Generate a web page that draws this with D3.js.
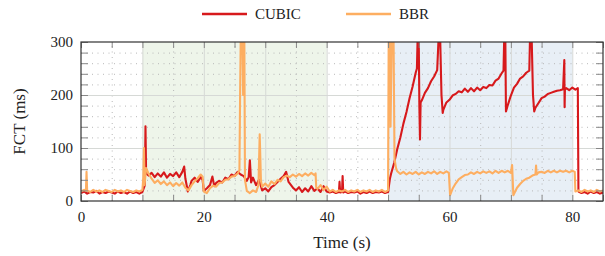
<!DOCTYPE html>
<html>
<head>
<meta charset="utf-8">
<script src="https://cdn.jsdelivr.net/npm/d3@7"></script>
<style>
  body { margin: 0; background: #fff; }
  text { font-family: "Liberation Serif", "DejaVu Serif", serif; fill: #222; }
</style>
</head>
<body>
<svg id="chart" width="605" height="256"></svg>
<script>
// series names + colours for the legend
const seriesNames = ["CUBIC", "BBR"];
const seriesColors = ["#d7191c", "#fdae61"];

// shaded phases (seconds)
const phases = [[10, 40], [50, 80]];
const phaseColors = ["#eef5ea", "#e8eff6"];

const xLabelTicks = [0, 20, 40, 60, 80];
const yLabelTicks = [0, 100, 200, 300];

// [time (s), FCT (ms)]
const cubic = [
  [0,15],[0.5,18],[1,14],[1.5,17],[2,16],[2.5,19],[3,14],[3.5,17],[4,15],[4.5,18],[5,16],[5.5,14],[6,18],[6.5,15],[7,17],[7.5,14],[8,18],[8.5,15],[9,17],[9.5,14],[10,17],
  [10.4,30],[10.5,141],[10.6,52],
  [11,48],[11.5,53],[12,45],[12.5,52],[13,46],[13.5,54],[14,44],[14.5,51],[15,47],[15.5,54],[16,45],[16.5,55],[16.8,65],[17,42],[17.4,18],[17.8,30],[18,38],[18.5,44],[19,36],[19.5,45],[19.8,40],
  [20,19],[20.5,24],[21,30],[21.4,46],[21.7,28],[22,34],[22.5,38],[23,35],[23.5,44],[24,41],[24.5,50],[25,47],[25.5,55],[26,50],[26.5,47],[27,38],[27.3,45],[27.5,77],[27.7,35],[28,44],[28.5,30],[29,40],[29.5,20],
  [30,24],[30.5,18],[31,26],[31.5,30],[32,36],[32.5,42],[33,47],[33.4,55],[33.8,36],[34.2,30],[34.6,24],[35,20],[35.5,26],[36,17],[36.5,24],[37,18],[37.5,28],[38,19],[38.5,24],[39,17],[39.5,28],[40,18],
  [40.5,16],[41,18],[41.5,15],[42,17],[42.1,36],[42.2,16],[42.5,17],[42.6,47],[42.7,16],[43,18],[43.5,15],[44,17],[44.5,16],[45,18],[45.5,14],[46,17],[46.5,15],[47,18],[47.5,15],[48,17],[48.5,16],[49,18],[49.5,15],[50,17],
  [50.3,42],[50.5,52],[51,72],[51.5,98],[52,120],[52.5,146],[53,168],[53.5,194],[54,216],[54.5,242],[54.7,250],[54.8,300],[55,300],[55.1,178],[55.2,116],[55.3,186],[55.5,190],[56,204],[56.5,213],[57,226],[57.5,235],[58,247],
  [58.2,300],[58.5,300],[58.7,200],[58.9,166],[59,172],[59.5,186],[60,191],[60.5,199],[61,202],[61.5,207],[62,205],[62.5,212],[63,206],[63.5,213],[64,207],[64.5,214],[65,209],[65.5,215],[66,213],[66.5,219],[67,218],[67.5,227],[68,231],[68.5,241],[68.8,246],
  [68.9,300],[69.1,300],[69.2,169],[69.5,181],[70,199],[70.5,214],[71,221],[71.5,231],[72,235],[72.5,242],[73,246],[73.1,300],[73.4,300],[73.6,200],[73.8,169],
  [74,176],[74.5,185],[75,194],[75.5,197],[76,202],[76.5,204],[77,206],[77.5,208],[78,209],[78.5,211],[78.7,266],[78.75,177],[78.8,210],[79,213],[79.5,209],[80,214],[80.5,210],[80.9,213],
  [81,18],[81.5,15],[82,17],[82.5,14],[83,18],[83.5,15],[84,17],[84.5,14],[85,16]
];

const bbr = [
  [0,18],[0.5,21],[0.8,19],[0.9,55],[1,20],[1.5,17],[2,21],[2.5,18],[3,20],[3.5,17],[4,21],[4.5,19],[5,17],[5.5,21],[6,18],[6.5,20],[7,17],[7.5,21],[8,19],[8.5,17],[9,20],[9.5,18],[10,21],
  [10.15,45],[10.25,100],[10.35,30],[10.6,62],[11,52],[11.5,42],[12,34],[12.5,39],[13,32],[13.5,37],[14,30],[14.5,35],[15,28],[15.5,34],[16,29],[16.5,35],[17,25],[17.5,20],[18,30],[18.5,37],[19,43],[19.5,50],[19.8,46],
  [20,18],[20.5,15],[21,24],[21.5,29],[22,27],[22.5,34],[23,35],[23.5,40],[24,41],[24.5,46],[25,47],[25.5,52],[25.8,58],[25.9,190],[26,300],[26.3,300],[26.4,200],[26.5,300],[26.6,300],[26.7,40],
  [27,19],[27.5,15],[28,20],[28.5,17],[28.9,30],[29.1,126],[29.3,38],[29.5,27],[30,33],[30.5,27],[31,37],[31.5,32],[32,40],[32.5,37],[33,45],[33.5,48],[34,45],[34.5,50],[35,46],[35.5,51],[36,47],[36.5,52],[37,48],[37.5,53],[38,49],[38.2,52],[38.3,26],[38.5,23],[39,30],[39.5,21],[40,27],
  [40.5,18],[41,21],[41.5,17],[42,20],[42.5,18],[43,21],[43.5,17],[44,20],[44.5,18],[45,21],[45.5,17],[46,20],[46.5,18],[47,21],[47.5,17],[48,20],[48.5,18],[49,21],[49.5,17],[50,20],
  [50.1,300],[50.3,300],[50.4,140],[50.6,300],[50.9,300],[51.05,80],[51.3,62],[51.5,56],[52,51],[52.5,55],[53,50],[53.5,54],[54,51],[54.5,55],[55,50],[55.5,54],[56,51],[56.5,55],[57,52],[57.5,56],[58,51],[58.5,55],[59,52],[59.5,56],[59.9,53],
  [60.1,11],[60.5,23],[61,33],[61.5,41],[62,45],[62.5,49],[63,50],[63.5,54],[64,51],[64.5,55],[65,52],[65.5,56],[66,53],[66.5,56],[67,52],[67.5,57],[68,53],[68.5,57],[69,54],[69.5,57],[70,53],[70.2,68],
  [70.4,11],[71,25],[71.5,32],[72,38],[72.5,42],[73,44],[73.5,48],[74,50],[74.1,67],[74.2,50],[74.5,54],[75,55],[75.5,53],[76,57],[76.5,54],[77,57],[77.5,54],[78,57],[78.5,55],[79,57],[79.5,54],[80,57],[80.4,55],
  [80.5,18],[81,20],[81.5,17],[82,21],[82.5,18],[83,20],[83.5,17],[84,21],[84.5,18],[85,20]
];

const margin = { top: 42, right: 2, bottom: 55, left: 81 },
  width = 605 - margin.left - margin.right,
  height = 256 - margin.top - margin.bottom;

const svg = d3.select("#chart")
  .append("g")
  .attr("transform", `translate(${margin.left},${margin.top})`);

const x = d3.scaleLinear().domain([0, 85]).range([0, width]);
const y = d3.scaleLinear().domain([0, 300]).range([height, 0]);

// phase shading
svg.selectAll("rect.phase")
  .data(phases)
  .join("rect")
  .attr("class", "phase")
  .attr("x", d => x(d[0]))
  .attr("width", d => x(d[1]) - x(d[0]))
  .attr("y", 0)
  .attr("height", height)
  .attr("fill", (d, i) => phaseColors[i]);

// grid: dotted minor, solid major
const xMinor = d3.range(5, 85, 10);
const xMajor = d3.range(10, 85, 10);
const yMinor = d3.range(20, 300, 20).filter(v => v % 100 !== 0);
const yMajor = [100, 200];

function grid(g) {
  g.select(".domain").remove();
  g.selectAll("text").remove();
}
svg.append("g")
  .attr("transform", `translate(0,${height})`)
  .call(d3.axisBottom(x).tickValues(xMinor).tickSize(-height).tickFormat(""))
  .call(grid)
  .selectAll("line").attr("stroke", "#b8b8b8").attr("stroke-dasharray", "1,4.5");
svg.append("g")
  .call(d3.axisLeft(y).tickValues(yMinor).tickSize(-width).tickFormat(""))
  .call(grid)
  .selectAll("line").attr("stroke", "#b8b8b8").attr("stroke-dasharray", "1,4.5");
svg.append("g")
  .attr("transform", `translate(0,${height})`)
  .call(d3.axisBottom(x).tickValues(xMajor).tickSize(-height).tickFormat(""))
  .call(grid)
  .selectAll("line").attr("stroke", "#d6d9d6");
svg.append("g")
  .call(d3.axisLeft(y).tickValues(yMajor).tickSize(-width).tickFormat(""))
  .call(grid)
  .selectAll("line").attr("stroke", "#d6d9d6");

// series
svg.append("clipPath").attr("id", "plotclip")
  .append("rect").attr("width", width).attr("height", height);

const line = d3.line()
  .x(d => x(d[0]))
  .y(d => y(d[1]));

[cubic, bbr].forEach((data, i) => {
  svg.append("path")
    .datum(data)
    .attr("clip-path", "url(#plotclip)")
    .attr("fill", "none")
    .attr("stroke", seriesColors[i])
    .attr("stroke-width", 2.1)
    .attr("stroke-linejoin", "round")
    .attr("d", line);
});

// inward ticks on all four sides
const xTicks = d3.range(0, 86, 5);
const yTicks = d3.range(0, 301, 20);
function ticks(g) {
  g.select(".domain").remove();
  g.selectAll("line").attr("stroke", "#888");
}
svg.append("g").attr("transform", `translate(0,${height})`)
  .call(d3.axisBottom(x).tickValues(xTicks).tickSize(-6).tickFormat("")).call(ticks);
svg.append("g")
  .call(d3.axisTop(x).tickValues(xTicks).tickSize(-6).tickFormat("")).call(ticks);
svg.append("g")
  .call(d3.axisLeft(y).tickValues(yTicks).tickSize(-7).tickFormat("")).call(ticks);
svg.append("g").attr("transform", `translate(${width},0)`)
  .call(d3.axisRight(y).tickValues(yTicks).tickSize(-7).tickFormat("")).call(ticks);

// frame
svg.append("rect")
  .attr("width", width).attr("height", height)
  .attr("fill", "none").attr("stroke", "#333").attr("stroke-width", 1.2);

// tick labels
const xAxis = svg.append("g").attr("transform", `translate(0,${height})`)
  .call(d3.axisBottom(x).tickValues(xLabelTicks).tickSize(0).tickPadding(10));
xAxis.select(".domain").remove();
xAxis.selectAll("text").style("font-size", "15px").style("font-family", "Liberation Serif").attr("fill", "#222");

const yAxis = svg.append("g")
  .call(d3.axisLeft(y).tickValues(yLabelTicks).tickSize(0).tickPadding(8));
yAxis.select(".domain").remove();
yAxis.selectAll("text").style("font-size", "15px").style("font-family", "Liberation Serif").attr("fill", "#222");

// axis titles
svg.append("text")
  .attr("x", width / 2).attr("y", height + 47)
  .attr("text-anchor", "middle")
  .style("font-size", "17px")
  .text("Time (s)");
svg.append("text")
  .attr("transform", `translate(${-56},${height / 2}) rotate(-90)`)
  .attr("text-anchor", "middle")
  .style("font-size", "17px")
  .text("FCT (ms)");

// legend
const legend = d3.select("#chart").append("g");
const legendX = [202, 346];
seriesNames.forEach((name, i) => {
  legend.append("line")
    .attr("x1", legendX[i]).attr("x2", legendX[i] + 45)
    .attr("y1", 14).attr("y2", 14)
    .attr("stroke", seriesColors[i]).attr("stroke-width", 2.5);
  legend.append("text")
    .attr("x", legendX[i] + 53).attr("y", 19)
    .style("font-size", "15px")
    .text(name);
});
</script>
</body>
</html>
